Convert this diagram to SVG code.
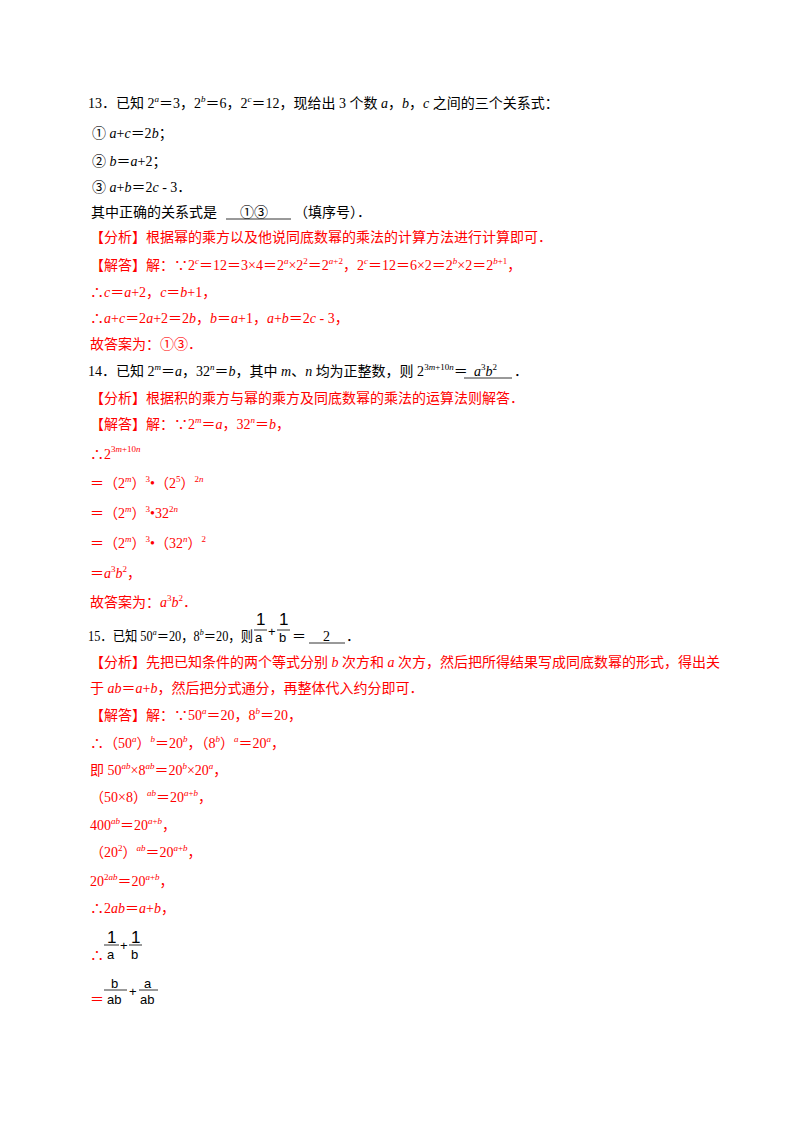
<svg xmlns="http://www.w3.org/2000/svg" width="800" height="1132" viewBox="0 0 800 1132">
<style>
text{font-family:"Liberation Serif","Noto Sans CJK SC",serif;font-size:14px;fill:#000}
.r{fill:#ff0000}
.i{font-style:italic}
.s{font-size:9px}
.f{font-family:"Liberation Sans",sans-serif;font-size:13px;fill:#000}
.fb{font-family:"Liberation Sans",sans-serif;font-size:17px;fill:#000}
line{stroke:#000;stroke-width:0.8}
</style>
<rect width="800" height="1132" fill="#fff"/>
<g id="q13">
<text x="88" y="108">13．已知 2<tspan class="s i" dy="-6">a</tspan><tspan dy="6">＝3，2</tspan><tspan class="s i" dy="-6">b</tspan><tspan dy="6">＝6，2</tspan><tspan class="s i" dy="-6">c</tspan><tspan dy="6">＝12，现给出 3 个数 </tspan><tspan class="i">a</tspan>，<tspan class="i">b</tspan>，<tspan class="i">c</tspan> 之间的三个关系式：</text>
<text x="92" y="138">① <tspan class="i">a</tspan>+<tspan class="i">c</tspan>＝2<tspan class="i">b</tspan>；</text>
<text x="92" y="166">② <tspan class="i">b</tspan>＝<tspan class="i">a</tspan>+2；</text>
<text x="92" y="192">③ <tspan class="i">a</tspan>+<tspan class="i">b</tspan>＝2<tspan class="i">c</tspan> - 3．</text>
<text x="91" y="217">其中正确的关系式是</text>
<text x="240" y="217">①③</text>
<text x="294" y="217">（填序号）．</text>
<line x1="226" y1="219" x2="291" y2="219"/>
<text class="r" x="90" y="242">【分析】根据幂的乘方以及他说同底数幂的乘法的计算方法进行计算即可．</text>
<text class="r" x="90" y="270">【解答】解：∵2<tspan class="s i" dy="-6">c</tspan><tspan dy="6">＝12＝3×4＝2</tspan><tspan class="s i" dy="-6">a</tspan><tspan dy="6">×2</tspan><tspan class="s" dy="-6">2</tspan><tspan dy="6">＝2</tspan><tspan class="s" dy="-6"><tspan class="i">a</tspan>+2</tspan><tspan dy="6">，2</tspan><tspan class="s i" dy="-6">c</tspan><tspan dy="6">＝12＝6×2＝2</tspan><tspan class="s i" dy="-6">b</tspan><tspan dy="6">×2＝2</tspan><tspan class="s" dy="-6"><tspan class="i">b</tspan>+1</tspan><tspan dy="6">，</tspan></text>
<text class="r" x="90" y="297">∴<tspan class="i">c</tspan>＝<tspan class="i">a</tspan>+2，<tspan class="i">c</tspan>＝<tspan class="i">b</tspan>+1，</text>
<text class="r" x="90" y="323">∴<tspan class="i">a</tspan>+<tspan class="i">c</tspan>＝2<tspan class="i">a</tspan>+2＝2<tspan class="i">b</tspan>，<tspan class="i">b</tspan>＝<tspan class="i">a</tspan>+1，<tspan class="i">a</tspan>+<tspan class="i">b</tspan>＝2<tspan class="i">c</tspan> - 3，</text>
<text class="r" x="90" y="349">故答案为：①③．</text>
</g>
<g id="q14">
<text x="88" y="376">14．已知 2<tspan class="s i" dy="-6">m</tspan><tspan dy="6">＝</tspan><tspan class="i">a</tspan>，32<tspan class="s i" dy="-6">n</tspan><tspan dy="6">＝</tspan><tspan class="i">b</tspan>，其中 <tspan class="i">m</tspan>、<tspan class="i">n</tspan> 均为正整数，则 2<tspan class="s" dy="-6">3<tspan class="i">m</tspan>+10<tspan class="i">n</tspan></tspan><tspan dy="6">＝</tspan></text>
<text x="474" y="376"><tspan class="i">a</tspan><tspan class="s" dy="-6">3</tspan><tspan class="i" dy="6">b</tspan><tspan class="s" dy="-6">2</tspan></text>
<text x="514" y="376">．</text>
<line x1="464" y1="378" x2="512" y2="378"/>
<text class="r" x="90" y="403">【分析】根据积的乘方与幂的乘方及同底数幂的乘法的运算法则解答．</text>
<text class="r" x="90" y="429">【解答】解：∵2<tspan class="s i" dy="-6">m</tspan><tspan dy="6">＝</tspan><tspan class="i">a</tspan>，32<tspan class="s i" dy="-6">n</tspan><tspan dy="6">＝</tspan><tspan class="i">b</tspan>，</text>
<text class="r" x="90" y="459">∴2<tspan class="s" dy="-7">3<tspan class="i">m</tspan>+10<tspan class="i">n</tspan></tspan></text>
<text class="r" x="90" y="488">＝（2<tspan class="s i" dy="-6">m</tspan><tspan dy="6">）</tspan><tspan class="s" dy="-6">3</tspan><tspan dy="6">•（2</tspan><tspan class="s" dy="-6">5</tspan><tspan dy="6">）</tspan><tspan class="s" dy="-6">2<tspan class="i">n</tspan></tspan></text>
<text class="r" x="90" y="518">＝（2<tspan class="s i" dy="-6">m</tspan><tspan dy="6">）</tspan><tspan class="s" dy="-6">3</tspan><tspan dy="6">•32</tspan><tspan class="s" dy="-6">2<tspan class="i">n</tspan></tspan></text>
<text class="r" x="90" y="548">＝（2<tspan class="s i" dy="-6">m</tspan><tspan dy="6">）</tspan><tspan class="s" dy="-6">3</tspan><tspan dy="6">•（32</tspan><tspan class="s i" dy="-6">n</tspan><tspan dy="6">）</tspan><tspan class="s" dy="-6">2</tspan></text>
<text class="r" x="90" y="578">＝<tspan class="i">a</tspan><tspan class="s" dy="-6">3</tspan><tspan class="i" dy="6">b</tspan><tspan class="s" dy="-6">2</tspan><tspan dy="6">，</tspan></text>
<text class="r" x="90" y="607">故答案为：<tspan class="i">a</tspan><tspan class="s" dy="-6">3</tspan><tspan class="i" dy="6">b</tspan><tspan class="s" dy="-6">2</tspan><tspan dy="6">．</tspan></text>
</g>
<g id="q15">
<text x="88" y="641" textLength="165" lengthAdjust="spacingAndGlyphs">15．已知 50<tspan class="s i" dy="-6">a</tspan><tspan dy="6">＝20，8</tspan><tspan class="s i" dy="-6">b</tspan><tspan dy="6">＝20，则</tspan></text>
<text class="fb" x="256" y="625">1</text><line x1="254" y1="630" x2="267" y2="630"/><text class="f" x="255" y="642">a</text>
<text class="f" x="268" y="636">+</text>
<text class="fb" x="279" y="625">1</text><line x1="277" y1="630" x2="290" y2="630"/><text class="f" x="279" y="642">b</text>
<text x="292" y="641">＝</text>
<text x="323" y="641">2</text>
<text x="346" y="641">．</text>
<line x1="309" y1="643" x2="345" y2="643"/>
<text class="r" x="90" y="667">【分析】先把已知条件的两个等式分别 <tspan class="i">b</tspan> 次方和 <tspan class="i">a</tspan> 次方，然后把所得结果写成同底数幂的形式，得出关</text>
<text class="r" x="90" y="693">于 <tspan class="i">ab</tspan>＝<tspan class="i">a</tspan>+<tspan class="i">b</tspan>，然后把分式通分，再整体代入约分即可．</text>
<text class="r" x="90" y="720">【解答】解：∵50<tspan class="s i" dy="-6">a</tspan><tspan dy="6">＝20，8</tspan><tspan class="s i" dy="-6">b</tspan><tspan dy="6">＝20，</tspan></text>
<text class="r" x="90" y="748">∴（50<tspan class="s i" dy="-6">a</tspan><tspan dy="6">）</tspan><tspan class="s i" dy="-6">b</tspan><tspan dy="6">＝20</tspan><tspan class="s i" dy="-6">b</tspan><tspan dy="6">，（8</tspan><tspan class="s i" dy="-6">b</tspan><tspan dy="6">）</tspan><tspan class="s i" dy="-6">a</tspan><tspan dy="6">＝20</tspan><tspan class="s i" dy="-6">a</tspan><tspan dy="6">，</tspan></text>
<text class="r" x="90" y="775">即 50<tspan class="s i" dy="-6">ab</tspan><tspan dy="6">×8</tspan><tspan class="s i" dy="-6">ab</tspan><tspan dy="6">＝20</tspan><tspan class="s i" dy="-6">b</tspan><tspan dy="6">×20</tspan><tspan class="s i" dy="-6">a</tspan><tspan dy="6">，</tspan></text>
<text class="r" x="90" y="802">（50×8）<tspan class="s i" dy="-6">ab</tspan><tspan dy="6">＝20</tspan><tspan class="s" dy="-6"><tspan class="i">a</tspan>+<tspan class="i">b</tspan></tspan><tspan dy="6">，</tspan></text>
<text class="r" x="90" y="830">400<tspan class="s i" dy="-6">ab</tspan><tspan dy="6">＝20</tspan><tspan class="s" dy="-6"><tspan class="i">a</tspan>+<tspan class="i">b</tspan></tspan><tspan dy="6">，</tspan></text>
<text class="r" x="90" y="857">（20<tspan class="s" dy="-6">2</tspan><tspan dy="6">）</tspan><tspan class="s i" dy="-6">ab</tspan><tspan dy="6">＝20</tspan><tspan class="s" dy="-6"><tspan class="i">a</tspan>+<tspan class="i">b</tspan></tspan><tspan dy="6">，</tspan></text>
<text class="r" x="90" y="886">20<tspan class="s" dy="-6">2<tspan class="i">ab</tspan></tspan><tspan dy="6">＝20</tspan><tspan class="s" dy="-6"><tspan class="i">a</tspan>+<tspan class="i">b</tspan></tspan><tspan dy="6">，</tspan></text>
<text class="r" x="90" y="913">∴2<tspan class="i">ab</tspan>＝<tspan class="i">a</tspan>+<tspan class="i">b</tspan>，</text>
<text class="r" x="90" y="960">∴</text>
<text class="fb" x="107" y="943">1</text><line x1="104" y1="945" x2="119" y2="945"/><text class="f" x="107" y="959">a</text>
<text class="f" x="120" y="950">+</text>
<text class="fb" x="131" y="943">1</text><line x1="129" y1="945" x2="142" y2="945"/><text class="f" x="131" y="959">b</text>
<text class="r" x="90" y="1004">＝</text>
<text class="f" x="111" y="988">b</text><line x1="104" y1="990" x2="127" y2="990"/><text class="f" x="107" y="1004">ab</text>
<text class="f" x="129" y="996">+</text>
<text class="f" x="144" y="988">a</text><line x1="139" y1="990" x2="158" y2="990"/><text class="f" x="140" y="1004">ab</text>
</g>
</svg>
